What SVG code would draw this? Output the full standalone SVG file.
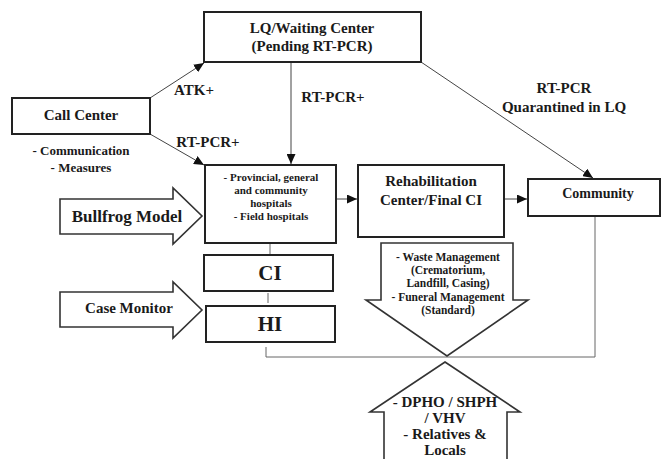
<svg xmlns="http://www.w3.org/2000/svg" width="662" height="459" viewBox="0 0 662 459">
<style>
text{font-weight:bold;fill:#1a1a1a;text-anchor:middle}
.box{fill:#fff;stroke:#222;stroke-width:2}
.big{fill:#fff;stroke:#333;stroke-width:1.6}
.con{fill:none;stroke:#444;stroke-width:1}
.gray{fill:none;stroke:#666;stroke-width:1}
</style>
<defs>
<marker id="ah" markerUnits="userSpaceOnUse" markerWidth="10" markerHeight="9" refX="10" refY="4.5" orient="auto">
<path d="M0,0 L10,4.5 L0,9 z" fill="#111"/>
</marker>
</defs>
<rect width="662" height="459" fill="#fff"/>
<g font-family="Liberation Serif, Tinos, Times New Roman, DejaVu Serif, serif">
<g id="connectors">
<line class="con" x1="150" y1="98" x2="204" y2="63" marker-end="url(#ah)"/>
<line class="con" x1="150" y1="134" x2="204" y2="165" marker-end="url(#ah)"/>
<line class="con" x1="291" y1="62" x2="291" y2="164" marker-end="url(#ah)"/>
<line class="con" x1="421" y1="62" x2="593" y2="178" marker-end="url(#ah)"/>
<line class="con" x1="336" y1="199" x2="357" y2="199" marker-end="url(#ah)"/>
<line class="con" x1="505" y1="199" x2="527" y2="199" marker-end="url(#ah)"/>
<line class="gray" x1="270" y1="243" x2="270" y2="255"/>
<line class="gray" x1="268" y1="293" x2="268" y2="303"/>
<polyline class="gray" points="266,347 266,357 595,357 595,216"/>
<text x="194" y="95" font-size="15">ATK+</text>
<text x="208" y="147" font-size="15">RT-PCR+</text>
<text x="333" y="102" font-size="15">RT-PCR+</text>
<text x="564" y="93" font-size="15">RT-PCR</text>
<text x="564" y="112" font-size="15">Quarantined in LQ</text>
</g>
<g id="lq">
<rect class="box" x="204" y="12" width="217" height="50"/>
<text x="312" y="33" font-size="15">LQ/Waiting Center</text>
<text x="312" y="51" font-size="15">(Pending RT-PCR)</text>
</g>
<g id="callcenter">
<rect class="box" x="12" y="98" width="138" height="36"/>
<text x="81" y="120" font-size="15">Call Center</text>
<text x="81" y="155" font-size="13">- Communication</text>
<text x="81" y="172" font-size="13">- Measures</text>
</g>
<g id="hospitals">
<rect class="box" x="205" y="165" width="131" height="78"/>
<text x="271" y="181" font-size="11">- Provincial, general</text>
<text x="271" y="194" font-size="11">and community</text>
<text x="271" y="207" font-size="11">hospitals</text>
<text x="271" y="220" font-size="11">- Field hospitals</text>
</g>
<g id="rehab">
<rect class="box" x="358" y="165" width="146" height="72"/>
<text x="431" y="186" font-size="15">Rehabilitation</text>
<text x="431" y="205" font-size="15">Center/Final CI</text>
</g>
<g id="community">
<rect class="box" x="528" y="179" width="132" height="37"/>
<text x="598" y="198" font-size="14">Community</text>
</g>
<g id="ci">
<rect class="box" x="204" y="255" width="129" height="36"/>
<text x="270" y="280" font-size="21">CI</text>
</g>
<g id="hi">
<rect class="box" x="206" y="306" width="129" height="36"/>
<text x="270" y="331" font-size="21">HI</text>
</g>
<g id="bullfrog">
<polygon class="big" points="60,199 173,199 173,188 202,216 173,244 173,234 60,234"/>
<text x="127" y="222" font-size="17">Bullfrog Model</text>
</g>
<g id="casemonitor">
<polygon class="big" points="60,292 173,292 173,282 202,310 173,338 173,327 60,327"/>
<text x="129" y="313" font-size="15">Case Monitor</text>
</g>
<g id="waste">
<polygon class="big" points="381,243 513,243 513,300 528,300 447,356 366,300 381,300"/>
<text x="448" y="261" font-size="11.5">- Waste Management</text>
<text x="448" y="274" font-size="11.5">(Crematorium,</text>
<text x="448" y="287" font-size="11.5">Landfill, Casing)</text>
<text x="448" y="301" font-size="11.5">- Funeral Management</text>
<text x="448" y="314" font-size="11.5">(Standard)</text>
</g>
<g id="dpho">
<polygon class="big" points="445,362 520,412 507,412 507,462 384,462 384,412 370,412"/>
<text x="445" y="407" font-size="15">- DPHO / SHPH</text>
<text x="445" y="423" font-size="15">/ VHV</text>
<text x="445" y="439" font-size="15">- Relatives &amp;</text>
<text x="445" y="455" font-size="15">Locals</text>
</g>
</g>
</svg>
